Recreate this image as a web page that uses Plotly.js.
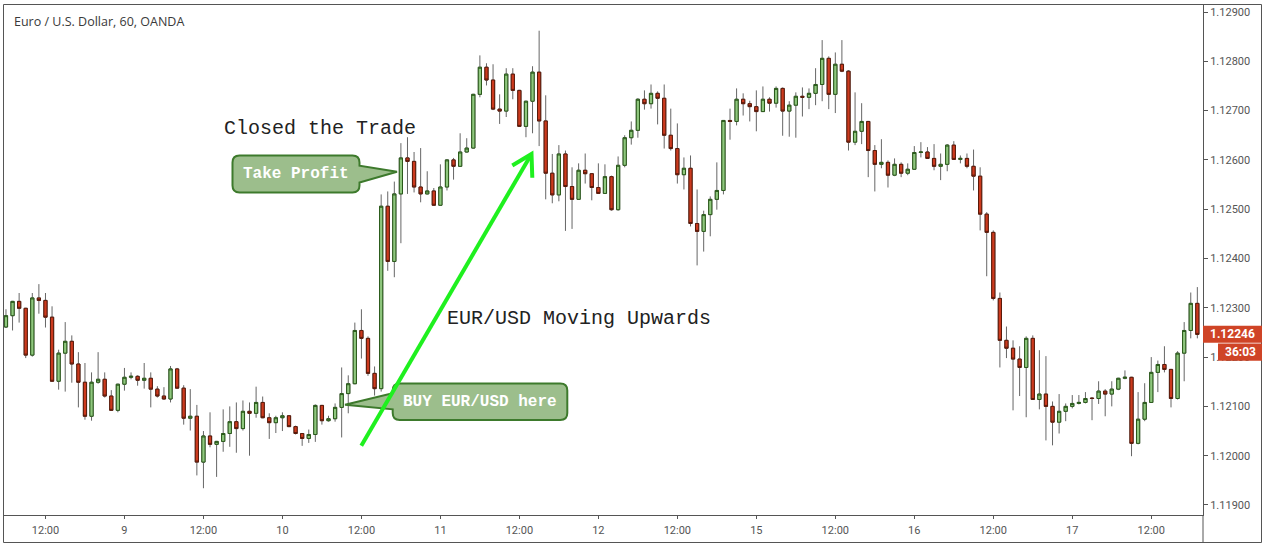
<!DOCTYPE html>
<html>
<head>
<meta charset="utf-8">
<script src="https://cdn.plot.ly/plotly-3.0.1.min.js"></script>
<style>
html,body{margin:0;padding:0;background:#fff;}
#chart{width:1262px;height:547px;}
</style>
</head>
<body>
<div id="chart"></div>
<script>
// ---- Data: EUR/USD 60-minute candles (OANDA) ----
const open = [
1.12261,1.12284,1.12313,1.12299,1.12204,1.12320,1.12315,1.12281,1.12151,1.12208,
1.12232,1.12186,1.12149,1.12080,1.12149,1.12155,1.12121,1.12092,1.12145,1.12159,
1.12161,1.12153,1.12157,1.12135,1.12121,1.12115,1.12176,1.12137,1.12076,1.12080,
1.11987,1.12040,1.12023,1.12029,1.12045,1.12069,1.12055,1.12090,1.12086,1.12108,
1.12077,1.12067,1.12077,1.12081,1.12059,1.12045,1.12035,1.12043,1.12102,1.12071,
1.12075,1.12098,1.12126,1.12146,1.12254,1.12238,1.12167,1.12136,1.12506,1.12394,
1.12531,1.12604,1.12597,1.12545,1.12531,1.12537,1.12508,1.12545,1.12600,1.12587,
1.12616,1.12624,1.12733,1.12788,1.12762,1.12703,1.12699,1.12774,1.12741,1.12668,
1.12719,1.12778,1.12679,1.12573,1.12529,1.12612,1.12546,1.12520,1.12579,1.12572,
1.12544,1.12532,1.12566,1.12499,1.12589,1.12645,1.12660,1.12723,1.12714,1.12735,
1.12725,1.12650,1.12623,1.12570,1.12583,1.12471,1.12455,1.12489,1.12520,1.12538,
1.12680,1.12678,1.12723,1.12714,1.12708,1.12698,1.12723,1.12715,1.12745,1.12699,
1.12711,1.12729,1.12727,1.12735,1.12753,1.12806,1.12733,1.12794,1.12780,1.12636,
1.12658,1.12678,1.12619,1.12591,1.12595,1.12569,1.12591,1.12573,1.12581,1.12615,
1.12616,1.12603,1.12587,1.12591,1.12630,1.12601,1.12603,1.12587,1.12567,1.12490,
1.12453,1.12319,1.12234,1.12218,1.12196,1.12179,1.12238,1.12114,1.12125,1.12100,
1.12068,1.12090,1.12100,1.12106,1.12108,1.12117,1.12116,1.12131,1.12125,1.12135,
1.12157,1.12159,1.12025,1.12074,1.12108,1.12169,1.12185,1.12175,1.12116,1.12208,
1.12254,1.12309
];
const high = [
1.12297,1.12314,1.12330,1.12300,1.12330,1.12348,1.12330,1.12303,1.12215,1.12271,
1.12244,1.12210,1.12188,1.12169,1.12210,1.12169,1.12133,1.12146,1.12178,1.12169,
1.12163,1.12188,1.12169,1.12141,1.12139,1.12182,1.12178,1.12143,1.12135,1.12103,
1.12050,1.12088,1.12030,1.12094,1.12100,1.12108,1.12112,1.12108,1.12140,1.12120,
1.12086,1.12081,1.12088,1.12082,1.12061,1.12046,1.12053,1.12104,1.12103,1.12081,
1.12106,1.12179,1.12163,1.12270,1.12297,1.12242,1.12181,1.12530,1.12536,1.12556,
1.12634,1.12646,1.12616,1.12624,1.12577,1.12543,1.12591,1.12601,1.12604,1.12654,
1.12644,1.12734,1.12812,1.12796,1.12794,1.12733,1.12786,1.12786,1.12742,1.12720,
1.12790,1.12862,1.12731,1.12612,1.12630,1.12619,1.12585,1.12593,1.12613,1.12573,
1.12593,1.12591,1.12568,1.12607,1.12650,1.12678,1.12725,1.12741,1.12753,1.12739,
1.12753,1.12704,1.12674,1.12605,1.12609,1.12540,1.12497,1.12526,1.12595,1.12681,
1.12704,1.12745,1.12735,1.12720,1.12741,1.12749,1.12727,1.12749,1.12747,1.12719,
1.12737,1.12747,1.12745,1.12786,1.12843,1.12810,1.12818,1.12843,1.12782,1.12737,
1.12715,1.12679,1.12630,1.12642,1.12599,1.12603,1.12595,1.12593,1.12628,1.12636,
1.12626,1.12632,1.12613,1.12632,1.12638,1.12609,1.12613,1.12621,1.12585,1.12494,
1.12457,1.12331,1.12262,1.12234,1.12222,1.12242,1.12244,1.12214,1.12202,1.12110,
1.12125,1.12106,1.12123,1.12123,1.12129,1.12118,1.12151,1.12135,1.12151,1.12158,
1.12173,1.12160,1.12129,1.12147,1.12200,1.12193,1.12222,1.12176,1.12212,1.12271,
1.12331,1.12342
];
const low = [
1.12259,1.12254,1.12270,1.12198,1.12201,1.12288,1.12260,1.12150,1.12134,1.12130,
1.12148,1.12098,1.12073,1.12071,1.12146,1.12118,1.12091,1.12088,1.12132,1.12155,
1.12142,1.12136,1.12098,1.12118,1.12114,1.12108,1.12136,1.12063,1.12051,1.11960,
1.11934,1.12017,1.11957,1.12008,1.12018,1.12006,1.12051,1.12000,1.12077,1.12076,
1.12034,1.12046,1.12050,1.12058,1.12043,1.12020,1.12026,1.12028,1.12063,1.12069,
1.12069,1.12037,1.12086,1.12145,1.12197,1.12162,1.12122,1.12130,1.12375,1.12362,
1.12431,1.12531,1.12534,1.12514,1.12530,1.12507,1.12507,1.12538,1.12560,1.12586,
1.12615,1.12623,1.12727,1.12751,1.12701,1.12673,1.12687,1.12723,1.12667,1.12646,
1.12654,1.12628,1.12520,1.12512,1.12516,1.12456,1.12460,1.12519,1.12552,1.12518,
1.12531,1.12531,1.12497,1.12497,1.12585,1.12631,1.12645,1.12702,1.12704,1.12672,
1.12623,1.12619,1.12552,1.12540,1.12465,1.12386,1.12414,1.12445,1.12499,1.12530,
1.12641,1.12670,1.12690,1.12678,1.12658,1.12698,1.12698,1.12706,1.12649,1.12647,
1.12645,1.12688,1.12703,1.12711,1.12719,1.12703,1.12695,1.12778,1.12619,1.12630,
1.12632,1.12565,1.12536,1.12583,1.12544,1.12567,1.12565,1.12569,1.12580,1.12605,
1.12602,1.12579,1.12559,1.12577,1.12600,1.12593,1.12583,1.12538,1.12457,1.12364,
1.12315,1.12179,1.12198,1.12092,1.12121,1.12078,1.12113,1.12094,1.12031,1.12021,
1.12045,1.12070,1.12096,1.12104,1.12106,1.12072,1.12105,1.12080,1.12100,1.12133,
1.12155,1.11999,1.12023,1.12070,1.12107,1.12129,1.12169,1.12098,1.12114,1.12151,
1.12238,1.12238
];
const close = [
1.12284,1.12313,1.12299,1.12204,1.12320,1.12315,1.12281,1.12151,1.12208,1.12232,
1.12186,1.12149,1.12080,1.12149,1.12155,1.12121,1.12092,1.12145,1.12159,1.12161,
1.12153,1.12157,1.12135,1.12121,1.12115,1.12176,1.12137,1.12076,1.12080,1.11987,
1.12040,1.12023,1.12029,1.12045,1.12069,1.12055,1.12090,1.12086,1.12108,1.12077,
1.12067,1.12077,1.12081,1.12059,1.12045,1.12035,1.12043,1.12102,1.12071,1.12075,
1.12098,1.12126,1.12146,1.12254,1.12238,1.12167,1.12136,1.12506,1.12394,1.12531,
1.12604,1.12597,1.12545,1.12531,1.12537,1.12508,1.12545,1.12600,1.12587,1.12616,
1.12624,1.12733,1.12788,1.12762,1.12703,1.12699,1.12774,1.12741,1.12668,1.12719,
1.12778,1.12679,1.12573,1.12529,1.12612,1.12546,1.12520,1.12579,1.12572,1.12544,
1.12532,1.12566,1.12499,1.12589,1.12645,1.12660,1.12723,1.12714,1.12735,1.12725,
1.12650,1.12623,1.12570,1.12583,1.12471,1.12455,1.12489,1.12520,1.12538,1.12680,
1.12678,1.12723,1.12714,1.12708,1.12698,1.12723,1.12715,1.12745,1.12699,1.12711,
1.12729,1.12727,1.12735,1.12753,1.12806,1.12733,1.12794,1.12780,1.12636,1.12658,
1.12678,1.12619,1.12591,1.12595,1.12569,1.12591,1.12573,1.12581,1.12615,1.12616,
1.12603,1.12587,1.12591,1.12630,1.12601,1.12603,1.12587,1.12567,1.12490,1.12453,
1.12319,1.12234,1.12218,1.12196,1.12179,1.12238,1.12114,1.12125,1.12100,1.12068,
1.12090,1.12100,1.12106,1.12108,1.12116,1.12116,1.12131,1.12125,1.12135,1.12157,
1.12159,1.12025,1.12074,1.12108,1.12169,1.12185,1.12175,1.12116,1.12208,1.12254,
1.12309,1.12246
];
// x-axis: candle index of each labelled hour, and its label
const tickIndex = [6,18,30,42,54,66,78,90,102,114,126,138,150,162,174];
const tickLabels = ['12:00','9','12:00','10','12:00','11','12:00','12','12:00','15','12:00','16','12:00','17','12:00'];
// y-axis price ticks
const priceTicks = [1.119,1.120,1.121,1.122,1.123,1.124,1.125,1.126,1.127,1.128,1.129];
const priceTickLabels = ['1.11900','1.12000','1.12100','1.12200','1.12300','1.12400','1.12500','1.12600','1.12700','1.12800','1.12900'];
const lastPrice = '1.12246';
const countdown = '36:03';
const chartTitle = 'Euro / U.S. Dollar, 60, OANDA';

// ---- derived ----
const idx = open.map((_, i) => i);
const bodyHigh = open.map((o, i) => Math.max(o, close[i]));
const bodyLow = open.map((o, i) => Math.min(o, close[i]));

// ---- geometry helpers (pixel -> paper) ----
const ML = 4, MT = 5, PW = 1199, PH = 510;
const px = v => (v - ML) / PW;
const py = v => (MT + PH - v) / PH;
const P = (x, y) => px(x).toFixed(6) + ',' + py(y).toFixed(6);

function calloutRight(x0, y0, x1, y1, r, a, b, tx, ty) {
  return 'M' + P(x0 + r, y0) + 'L' + P(x1 - r, y0) + 'Q' + P(x1, y0) + ' ' + P(x1, y0 + r) +
    'L' + P(x1, a) + 'L' + P(tx, ty) + 'L' + P(x1, b) +
    'L' + P(x1, y1 - r) + 'Q' + P(x1, y1) + ' ' + P(x1 - r, y1) +
    'L' + P(x0 + r, y1) + 'Q' + P(x0, y1) + ' ' + P(x0, y1 - r) +
    'L' + P(x0, y0 + r) + 'Q' + P(x0, y0) + ' ' + P(x0 + r, y0) + 'Z';
}
function calloutLeft(x0, y0, x1, y1, r, a, b, tx, ty) {
  return 'M' + P(x0 + r, y0) + 'L' + P(x1 - r, y0) + 'Q' + P(x1, y0) + ' ' + P(x1, y0 + r) +
    'L' + P(x1, y1 - r) + 'Q' + P(x1, y1) + ' ' + P(x1 - r, y1) +
    'L' + P(x0 + r, y1) + 'Q' + P(x0, y1) + ' ' + P(x0, y1 - r) +
    'L' + P(x0, b) + 'L' + P(tx, ty) + 'L' + P(x0, a) +
    'L' + P(x0, y0 + r) + 'Q' + P(x0, y0) + ' ' + P(x0 + r, y0) + 'Z';
}

const GREEN_FILL = '#8fc77e', GREEN_LINE = '#2a5a1a';
const RED_FILL = '#cc3a1e', RED_LINE = '#5a1a0a';
const WICK = '#666666';
const AXIS = '#555555';

const wicks = {
  type: 'candlestick', x: idx, open: open, high: high, low: low, close: close,
  increasing: {line: {color: WICK, width: 1}, fillcolor: WICK},
  decreasing: {line: {color: WICK, width: 1}, fillcolor: WICK},
  whiskerwidth: 0, hoverinfo: 'skip', showlegend: false
};
const bodies = {
  type: 'candlestick', x: idx, open: open, high: bodyHigh, low: bodyLow, close: close,
  increasing: {line: {color: GREEN_LINE, width: 1}, fillcolor: GREEN_FILL},
  decreasing: {line: {color: RED_LINE, width: 1}, fillcolor: RED_FILL},
  whiskerwidth: 0, hoverinfo: 'skip', showlegend: false
};

const CALLOUT_FILL = '#9cbe8c', CALLOUT_LINE = '#3d7a2c';
const ARROW = '#1ff01f';

const shapes = [
  // outer frame
  {type: 'rect', xref: 'paper', yref: 'paper', x0: px(3.5), y0: py(4.5), x1: px(1261.5), y1: py(542.5),
   line: {color: AXIS, width: 1}, fillcolor: 'rgba(0,0,0,0)'},
  // price scale vertical line down to frame bottom
  {type: 'line', xref: 'paper', yref: 'paper', x0: px(1203), y0: py(515), x1: px(1203), y1: py(542.5),
   line: {color: AXIS, width: 1}},
  // take profit callout
  {type: 'path', xref: 'paper', yref: 'paper',
   path: calloutRight(232.5, 155.5, 359.5, 192.5, 7, 165.7, 182.5, 397, 171.7),
   fillcolor: CALLOUT_FILL, line: {color: CALLOUT_LINE, width: 2}},
  // buy callout
  {type: 'path', xref: 'paper', yref: 'paper',
   path: calloutLeft(392.7, 383.5, 567.3, 420, 7, 393.3, 409.3, 345, 404.7),
   fillcolor: CALLOUT_FILL, line: {color: CALLOUT_LINE, width: 2}},
  // green arrow
  {type: 'line', xref: 'paper', yref: 'paper', x0: px(361.3), y0: py(445.7), x1: px(531.2), y1: py(154.5),
   line: {color: ARROW, width: 4}},
  {type: 'path', xref: 'paper', yref: 'paper',
   path: 'M' + P(512.3, 165.5) + 'L' + P(531.5, 154) + 'L' + P(532.3, 177.7),
   fillcolor: 'rgba(0,0,0,0)', line: {color: ARROW, width: 4}},
  // last price box + countdown box
  {type: 'rect', xref: 'paper', yref: 'paper', x0: px(1203), y0: py(325.7), x1: px(1262), y1: py(342.7),
   fillcolor: '#cf4426', line: {width: 0}},
  {type: 'rect', xref: 'paper', yref: 'paper', x0: px(1218), y0: py(343.5), x1: px(1262), y1: py(360.7),
   fillcolor: '#cf4426', line: {width: 0}}
];

const MONO = 'Liberation Mono, Courier New, monospace';
const ann = (text, x, y, font, anchor) => ({
  text: text, xref: 'paper', yref: 'paper', x: px(x), y: py(y),
  xanchor: anchor || 'center', yanchor: 'middle', showarrow: false, font: font
});
const annotations = [
  ann(chartTitle, 12, 22, {family: 'Open Sans', size: 12.5, color: '#3a3a3a'}, 'left'),
  ann('Closed the Trade', 319.5, 128, {family: MONO, size: 20, color: '#222'}),
  ann('EUR/USD Moving Upwards', 579, 318, {family: MONO, size: 20, color: '#222'}),
  ann('Take Profit', 296, 174, {family: MONO, size: 16, color: '#ffffff', weight: 'bold'}),
  ann('BUY EUR/USD here', 480, 402, {family: MONO, size: 16, color: '#ffffff', weight: 'bold'}),
  ann(lastPrice, 1232.5, 334.5, {family: 'Roboto', size: 12, color: '#ffffff', weight: 'bold'}),
  ann(countdown, 1240, 352.3, {family: 'Roboto', size: 12, color: '#ffffff', weight: 'bold'})
];

const layout = {
  width: 1262, height: 547,
  margin: {l: ML, r: 1262 - ML - PW, t: MT, b: 547 - MT - PH, pad: 0},
  paper_bgcolor: '#ffffff', plot_bgcolor: '#ffffff',
  showlegend: false,
  xaxis: {
    range: [-0.3, 181.86], tickmode: 'array', tickvals: tickIndex, ticktext: tickLabels,
    ticks: 'outside', ticklen: 3, tickcolor: AXIS, showgrid: false, zeroline: false,
    showline: true, linecolor: AXIS, linewidth: 1, mirror: false,
    ticklabelstandoff: 2,
    tickfont: {family: 'Roboto', size: 11, color: '#555'},
    rangeslider: {visible: false}, fixedrange: true
  },
  yaxis: {
    side: 'right', range: [1.118797, 1.129142], tickmode: 'array', tickvals: priceTicks, ticktext: priceTickLabels,
    ticks: 'outside', ticklen: 4, tickcolor: AXIS, showgrid: false, zeroline: false,
    showline: true, linecolor: AXIS, linewidth: 1,
    tickfont: {family: 'Roboto', size: 11, color: '#555'}, fixedrange: true
  },
  shapes: shapes,
  annotations: annotations
};

Plotly.newPlot('chart', [wicks, bodies], layout, {staticPlot: true, displayModeBar: false});
</script>
</body>
</html>
